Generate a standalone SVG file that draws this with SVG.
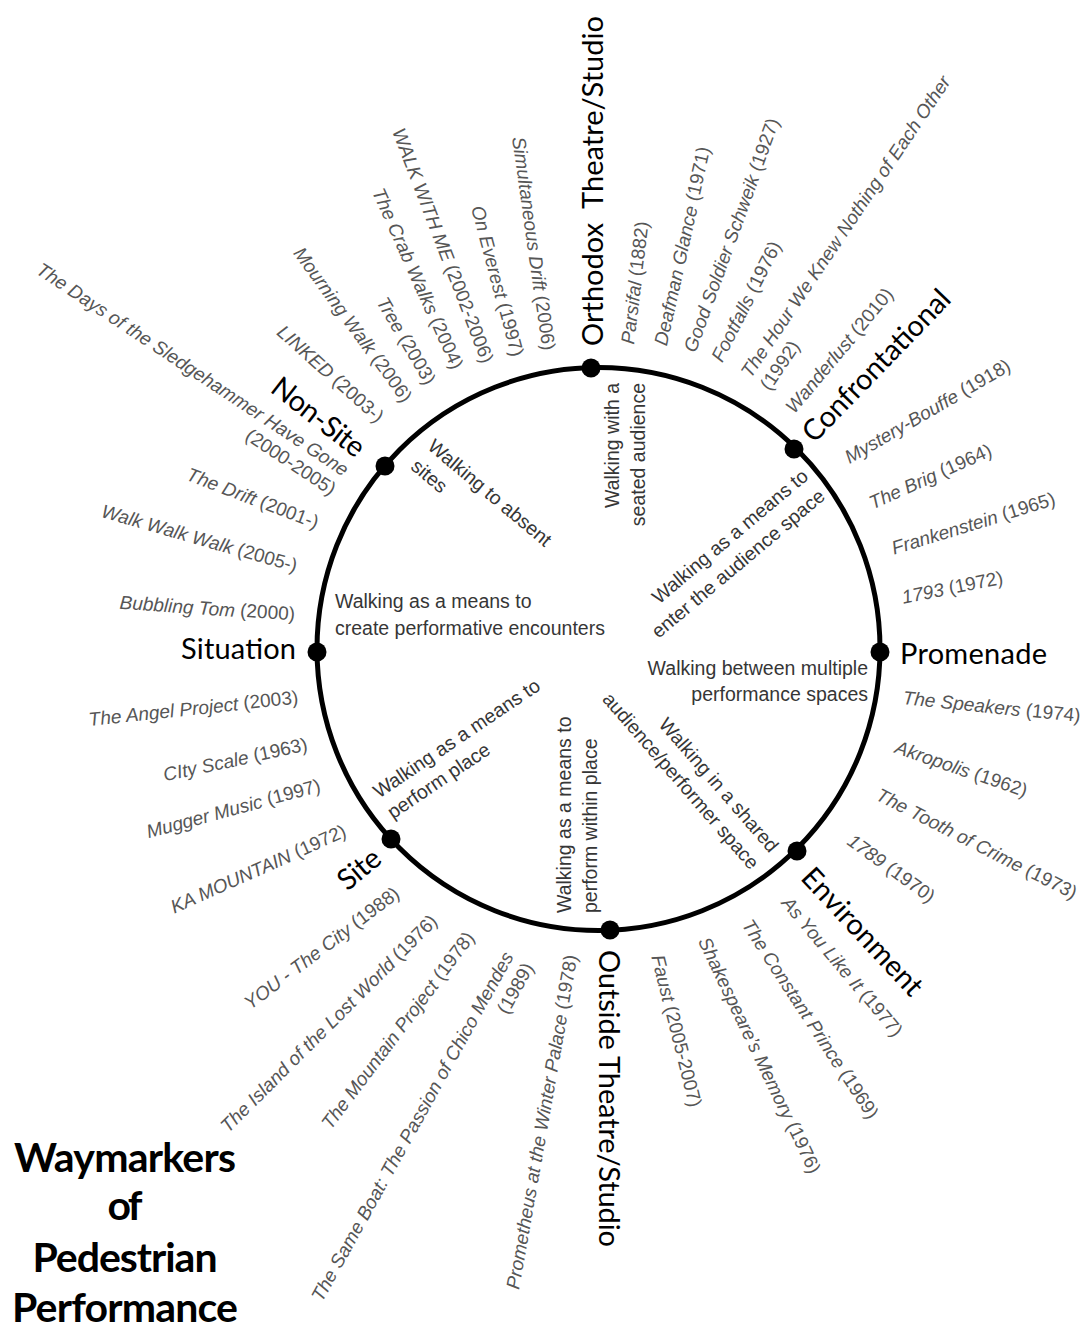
<svg xmlns="http://www.w3.org/2000/svg" width="1086" height="1331" viewBox="0 0 1086 1331">
<style>
  .it { font-family: "Liberation Sans", Arial, sans-serif; font-size: 19px; fill: #565656; dominant-baseline: central; }
  .t { font-style: italic; }
  .in { font-family: "Liberation Sans", Arial, sans-serif; font-size: 19.5px; fill: #363636; dominant-baseline: central; }
  .cat { font-family: Lato, "Open Sans", sans-serif; font-size: 29px; fill: #000; dominant-baseline: central; }
  .ttl { font-family: Lato, "Open Sans", sans-serif; font-size: 41px; font-weight: 700; fill: #000; text-anchor: middle; }
  .e { text-anchor: end; }
  .ring { fill: none; stroke: #000; stroke-width: 5; }
  .dot { fill: #000; }
</style>
<rect width="1086" height="1331" fill="#fff"/>

<!-- the ring that links the eight waymarkers -->
<g id="connectors">
  <circle class="ring" cx="598.5" cy="649" r="281.5"/>
</g>

<!-- waymarker categories: dot on the ring + label -->
<g id="orthodox">
  <circle class="dot" cx="591" cy="368" r="9.5"/>
  <text class="cat" transform="translate(591,346) rotate(-90)" textLength="330" xml:space="preserve">Orthodox  Theatre/Studio</text>
</g>
<g id="confrontational">
  <circle class="dot" cx="794" cy="449" r="9.5"/>
  <text class="cat" transform="translate(806,436) rotate(-46)" textLength="199">Confrontational</text>
</g>
<g id="promenade">
  <circle class="dot" cx="880" cy="652" r="9.5"/>
  <text class="cat" x="900" y="652" textLength="147">Promenade</text>
</g>
<g id="environment">
  <circle class="dot" cx="797" cy="851" r="9.5"/>
  <text class="cat" transform="translate(808,871) rotate(47)" textLength="163">Environment</text>
</g>
<g id="outside">
  <circle class="dot" cx="610" cy="930" r="9.5"/>
  <text class="cat" transform="translate(610,950) rotate(90)" textLength="297">Outside Theatre/Studio</text>
</g>
<g id="site">
  <circle class="dot" cx="391" cy="839" r="9.5"/>
  <text class="cat" transform="translate(340,883) rotate(-40)" textLength="47">Site</text>
</g>
<g id="situation">
  <circle class="dot" cx="317" cy="652" r="9.5"/>
  <text class="cat" x="181" y="647" textLength="115">Situation</text>
</g>
<g id="non-site">
  <circle class="dot" cx="385" cy="466" r="9.5"/>
  <text class="cat" transform="translate(276,382) rotate(38)" textLength="110">Non-Site</text>
</g>

<!-- walking modes inside the ring -->
<g id="modes">
  <text class="in e" transform="translate(612,383) rotate(-90)">Walking with a<tspan x="0" dy="26">seated audience</tspan></text>
  <text class="in e" transform="translate(805,473) rotate(-40)">Walking as a means to<tspan x="0" dy="26">enter the audience space</tspan></text>
  <text class="in e" x="868" y="668">Walking between multiple<tspan x="868" dy="26">performance spaces</tspan></text>
  <text class="in e" transform="translate(775,849) rotate(49)">Walking in a shared<tspan x="0" dy="26">audience/performer space</tspan></text>
  <text class="in" transform="translate(564,913) rotate(-90)">Walking as a means to<tspan x="0" dy="26">perform within place</tspan></text>
  <text class="in" transform="translate(375,793) rotate(-34)">Walking as a means to<tspan x="0" dy="25">perform place</tspan></text>
  <text class="in" x="335" y="601">Walking as a means to<tspan x="335" dy="27">create performative encounters</tspan></text>
  <text class="in" transform="translate(431,443) rotate(40)">Walking to absent<tspan x="0" dy="26">sites</tspan></text>
</g>

<!-- performances, fanned around the ring -->
<g id="works-nonsite-orthodox">
  <text class="it e" transform="translate(549,350) rotate(82)"><tspan class="t">Simultaneous Drift</tspan> (2006)</text>
  <text class="it e" transform="translate(518,356) rotate(75)"><tspan class="t">On Everest</tspan> (1997)</text>
  <text class="it e" transform="translate(488,362) rotate(69)"><tspan class="t">WALK WITH ME</tspan> (2002-2006)</text>
  <text class="it e" transform="translate(458,368) rotate(66)"><tspan class="t">The Crab Walks</tspan> (2004)</text>
  <text class="it e" transform="translate(431,383) rotate(60)"><tspan class="t">Tree</tspan> (2003)</text>
  <text class="it e" transform="translate(408,400) rotate(54)"><tspan class="t">Mourning Walk</tspan> (2006)</text>
  <text class="it e" transform="translate(381,419) rotate(42)"><tspan class="t">LINKED</tspan> (2003-)</text>
  <text class="it e" transform="translate(347,471) rotate(33.5)"><tspan class="t">The Days of the Sledgehammer Have Gone</tspan><tspan x="0" dy="23">(2000-2005)</tspan></text>
</g>
<g id="works-nonsite-situation">
  <text class="it e" transform="translate(318,523) rotate(21)"><tspan class="t">The Drift</tspan> (2001-)</text>
  <text class="it e" transform="translate(297,566) rotate(16)"><tspan class="t">Walk Walk Walk</tspan> (2005-)</text>
  <text class="it e" transform="translate(295,614) rotate(4)"><tspan class="t">Bubbling Tom</tspan> (2000)</text>
</g>
<g id="works-situation-site">
  <text class="it e" transform="translate(298,697) rotate(-6)"><tspan class="t">The Angel Project</tspan> (2003)</text>
  <text class="it e" transform="translate(307,744) rotate(-12)"><tspan class="t">CIty Scale</tspan> (1963)</text>
  <text class="it e" transform="translate(320,785) rotate(-15)"><tspan class="t">Mugger Music</tspan> (1997)</text>
  <text class="it e" transform="translate(345,830) rotate(-24)"><tspan class="t">KA MOUNTAIN</tspan> (1972)</text>
</g>
<g id="works-site-outside">
  <text class="it e" transform="translate(397,891) rotate(-37)"><tspan class="t">YOU - The City</tspan> (1988)</text>
  <text class="it e" transform="translate(434,918) rotate(-45)"><tspan class="t">The Island of the Lost World</tspan> (1976)</text>
  <text class="it e" transform="translate(470,934) rotate(-53)"><tspan class="t">The Mountain Project</tspan> (1978)</text>
  <text class="it e" transform="translate(508,953) rotate(-61)"><tspan class="t">The Same Boat: The Passion of Chico Mendes</tspan><tspan x="0" dy="23">(1989)</tspan></text>
  <text class="it e" transform="translate(571,955) rotate(-80)"><tspan class="t">Prometheus at the Winter Palace</tspan> (1978)</text>
</g>
<g id="works-outside-environment">
  <text class="it" transform="translate(658,955) rotate(76)"><tspan class="t">Faust</tspan> (2005-2007)</text>
  <text class="it" transform="translate(704,938) rotate(64.5)"><tspan class="t">Shakespeare’s Memory</tspan> (1976)</text>
  <text class="it" transform="translate(747,921) rotate(57)"><tspan class="t">The Constant Prince</tspan> (1969)</text>
  <text class="it" transform="translate(786,899) rotate(50)"><tspan class="t">As You Like It</tspan> (1977)</text>
</g>
<g id="works-environment-promenade">
  <text class="it" transform="translate(850,838) rotate(36)"><tspan class="t">1789</tspan> (1970)</text>
  <text class="it" transform="translate(878,793) rotate(27)"><tspan class="t">The Tooth of Crime</tspan> (1973)</text>
  <text class="it" transform="translate(896,746) rotate(19)"><tspan class="t">Akropolis</tspan> (1962)</text>
  <text class="it" transform="translate(903,697) rotate(6)"><tspan class="t">The Speakers</tspan> (1974)</text>
</g>
<g id="works-promenade-confrontational">
  <text class="it" transform="translate(902,597) rotate(-11)"><tspan class="t">1793</tspan> (1972)</text>
  <text class="it" transform="translate(892,548) rotate(-17)"><tspan class="t">Frankenstein</tspan> (1965)</text>
  <text class="it" transform="translate(870,503) rotate(-24)"><tspan class="t">The Brig</tspan> (1964)</text>
  <text class="it" transform="translate(846,458) rotate(-30)"><tspan class="t">Mystery-Bouffe</tspan> (1918)</text>
</g>
<g id="works-confrontational-orthodox">
  <text class="it" transform="translate(789,410) rotate(-50)"><tspan class="t">Wanderlust</tspan> (2010)</text>
  <text class="it" transform="translate(745,375) rotate(-56)"><tspan class="t">The Hour We Knew Nothing of Each Other</tspan><tspan x="0" dy="23">(1992)</tspan></text>
  <text class="it" transform="translate(716,360) rotate(-63)"><tspan class="t">Footfalls</tspan> (1976)</text>
  <text class="it" transform="translate(689,351) rotate(-70)"><tspan class="t">Good Soldier Schweik</tspan> (1927)</text>
  <text class="it" transform="translate(660,345) rotate(-77.5)"><tspan class="t">Deafman Glance</tspan> (1971)</text>
  <text class="it" transform="translate(627,344) rotate(-83)"><tspan class="t">Parsifal</tspan> (1882)</text>
</g>

<!-- title -->
<g id="title">
  <text class="ttl" x="125" y="1172" textLength="222">Waymarkers</text>
  <text class="ttl" x="125" y="1220" textLength="35">of</text>
  <text class="ttl" x="125" y="1272" textLength="185">Pedestrian</text>
  <text class="ttl" x="125" y="1322" textLength="226">Performance</text>
</g>
</svg>
